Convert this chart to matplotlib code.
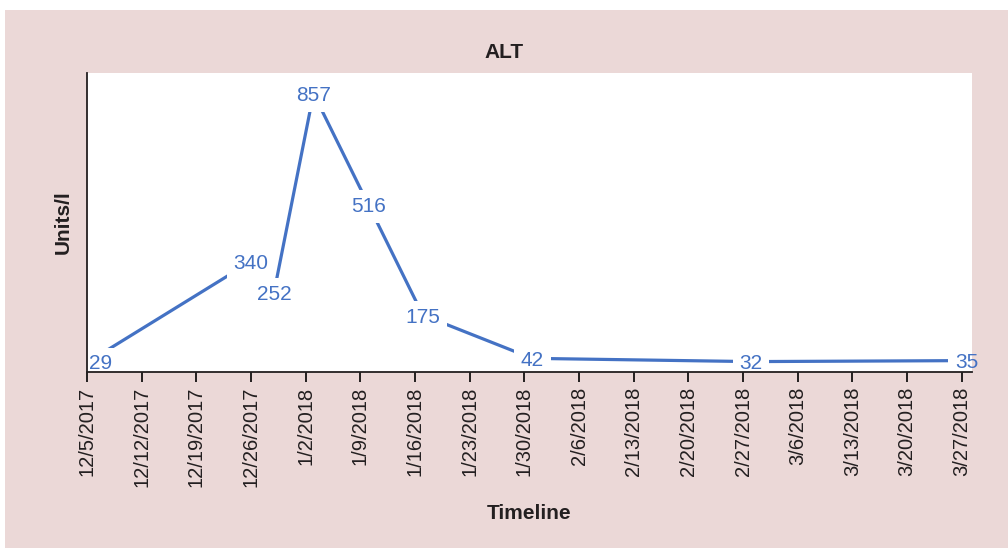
import matplotlib
matplotlib.use("Agg")
import matplotlib.pyplot as plt
from matplotlib.patches import Rectangle
import pandas as pd

# ---- data ----
dates = ["2017-12-05", "2017-12-26", "2017-12-29", "2018-01-03", "2018-01-10",
         "2018-01-17", "2018-01-31", "2018-02-28", "2018-03-27"]
values = [29, 340, 252, 857, 516, 175, 42, 32, 35]
tick_dates = pd.date_range("2017-12-05", "2018-03-27", freq="7D")
tick_labels = [f"{d.month}/{d.day}/{d.year}" for d in tick_dates]
title = "ALT"
xlabel = "Timeline"
ylabel = "Units/l"

# ---- style ----
plt.rcParams["font.family"] = ["Liberation Sans", "DejaVu Sans"]
bg = "#ebd8d7"
blue = "#4472c4"
dark = "#231f20"

x = pd.to_datetime(dates)

fig = plt.figure(figsize=(10.08, 5.49), dpi=100, facecolor="white")
fig.patches.append(Rectangle((5 / 1008, 1 / 549), 1 - 5 / 1008, 1 - 11 / 549,
                             transform=fig.transFigure, facecolor=bg,
                             edgecolor="none", zorder=-10))

ax = fig.add_axes([87 / 1008, 1 - 372 / 549, (972 - 87) / 1008, (372 - 73) / 549])
ax.set_zorder(5)
ax.set_facecolor("white")

ax.plot(x, values, color=blue, lw=2.3, solid_capstyle="butt", zorder=2)

offsets = {0: (1.5, -1.0, "left"), 2: (0, -3.0, "center"), 8: (3.5, -1.0, "center")}
for i, (d, v) in enumerate(zip(x, values)):
    dx, dy, ha = offsets.get(i, (0, -1.5, "center"))
    ann = ax.annotate(str(v), xy=(d, v), xytext=(dx, dy), textcoords="offset points",
                      ha=ha, va="center", fontsize=15, color=blue, zorder=2.3,
                      bbox=dict(boxstyle="square,pad=0.33", fc="white", ec="none"))
    bp = ann.get_bbox_patch()
    bp.set_clip_on(True)
    bp.set_clip_path(ax.patch)

ax.set_xlim(pd.Timestamp("2017-12-05"), pd.Timestamp("2017-12-05") + pd.Timedelta(days=113.3))
ax.set_ylim(0, 920)
ax.set_yticks([])
ax.set_xticks(tick_dates)
ax.set_xticklabels(tick_labels, rotation=90, fontsize=14.5, color=dark)
ax.tick_params(axis="x", direction="out", length=7.5, width=1.4, color=dark, pad=3)

for s in ["top", "right"]:
    ax.spines[s].set_visible(False)
for s in ["left", "bottom"]:
    ax.spines[s].set_color(dark)
    ax.spines[s].set_linewidth(1.3)

ax.set_xlabel(xlabel, fontsize=15, fontweight="bold", color=dark, labelpad=12)
ax.set_ylabel(ylabel, fontsize=15, fontweight="bold", color=dark, labelpad=10)
fig.text(504 / 1008, 1 - 52 / 549, title, ha="center", va="center",
         fontsize=15, fontweight="bold", color=dark)

fig.savefig("out.png", dpi=100, facecolor="white")
